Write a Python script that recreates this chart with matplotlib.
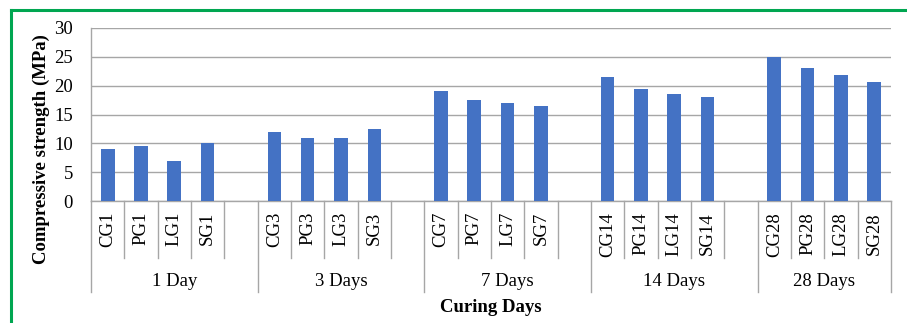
import matplotlib
matplotlib.use("Agg")
import matplotlib.pyplot as plt
from matplotlib.lines import Line2D
from matplotlib.transforms import blended_transform_factory

# Data
groups = ["1 Day", "3 Days", "7 Days", "14 Days", "28 Days"]
mixes = ["CG", "PG", "LG", "SG"]
day_suffix = ["1", "3", "7", "14", "28"]
strength_1d = [9.0, 9.5, 7.0, 10.0]
strength_3d = [12.0, 11.0, 11.0, 12.5]
strength_7d = [19.0, 17.5, 17.0, 16.5]
strength_14d = [21.5, 19.5, 18.5, 18.0]
strength_28d = [25.0, 23.0, 21.8, 20.6]
yticks = [0, 5, 10, 15, 20, 25, 30]

series = [strength_1d, strength_3d, strength_7d, strength_14d, strength_28d]

plt.rcParams["font.family"] = ["Liberation Serif", "DejaVu Serif"]

W, H = 907, 323
fig = plt.figure(figsize=(W / 100, H / 100), dpi=100)
ax = fig.add_axes([91 / W, 1 - 201 / H, 800 / W, 173 / H])

bar_color = "#4472C4"
grid_color = "#a6a6a6"
tick_fs = 13.5

# Each group occupies 5 slots (4 bars + one blank), the last group has no blank
positions, values, labels = [], [], []
for g, vals in enumerate(series):
    for j, v in enumerate(vals):
        positions.append(5 * g + j)
        values.append(v)
        labels.append(mixes[j] + day_suffix[g])
n_slots = 5 * (len(groups) - 1) + len(mixes)

ax.bar(positions, values, width=0.41, color=bar_color, zorder=3)
ax.set_xlim(-0.5, n_slots - 0.5)
ax.set_ylim(0, 30)
ax.set_yticks(yticks)
ax.tick_params(axis="y", length=0, labelsize=tick_fs, pad=13)
ax.set_xticks([])
ax.grid(axis="y", color=grid_color, linewidth=1.0, zorder=0)
ax.set_axisbelow(True)
for side in ["top", "right"]:
    ax.spines[side].set_visible(False)
ax.spines["left"].set_color(grid_color)
ax.spines["bottom"].set_color(grid_color)
ax.spines["left"].set_linewidth(1.0)
ax.spines["bottom"].set_linewidth(1.0)

# Category axis: slot separators and group separators below the plot
trans = blended_transform_factory(ax.transData, ax.transAxes)
px = 1 / 173  # one pixel in axes-fraction units vertically
group_edges = [-0.5] + [5 * g + 4.5 for g in range(len(groups) - 1)] + [n_slots - 0.5]
for k in range(n_slots + 1):
    x = k - 0.5
    depth = 91 if x in group_edges else 57
    ax.add_line(Line2D([x, x], [0, -depth * px], transform=trans, color=grid_color,
                       linewidth=1.0, clip_on=False))

for p, lab in zip(positions, labels):
    ax.text(p, -11 * px, lab, transform=trans, rotation=90, ha="center", va="top",
            fontsize=tick_fs)

for g, name in enumerate(groups):
    x0 = group_edges[g]
    x1 = group_edges[g + 1]
    ax.text((x0 + x1) / 2, -81 * px, name, transform=trans, ha="center", va="center",
            fontsize=tick_fs)

fig.text(491 / W, 1 - 307 / H, "Curing Days", ha="center", va="center",
         fontsize=13.5, fontweight="bold")
fig.text(41 / W, 1 - 149 / H, "Compressive strength (MPa)", ha="center", va="center",
         rotation=90, fontsize=13.5, fontweight="bold")

# Green frame around the figure
border = "#00A651"
fig.add_artist(Line2D([11 / W, 1.0], [1 - 9.5 / H, 1 - 9.5 / H], transform=fig.transFigure,
                      color=border, linewidth=2.2))
fig.add_artist(Line2D([11 / W, 11 / W], [0, 1 - 9.5 / H], transform=fig.transFigure,
                      color=border, linewidth=2.2))

fig.savefig("out.png", dpi=100, facecolor="white")
